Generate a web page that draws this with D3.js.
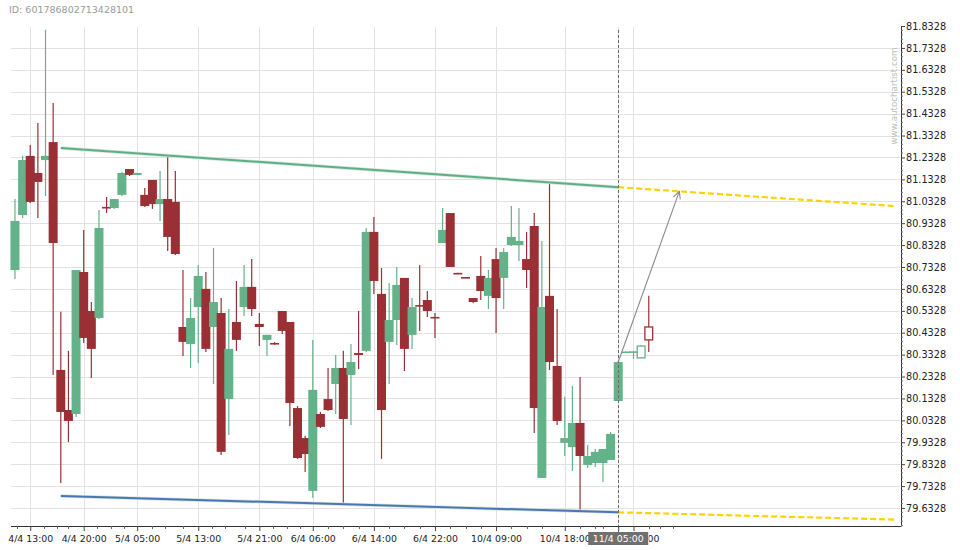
<!DOCTYPE html>
<html><head><meta charset="utf-8">
<script src="https://cdn.jsdelivr.net/npm/d3@7"></script>
<style>
body{margin:0;background:#fff;}
svg{display:block;font-family:"DejaVu Sans",sans-serif;}
</style>
</head><body>
<svg id="c" width="960" height="550"></svg>
<script>
// ---- data (candle index 0..83) ----
const openP  = [80.719,80.970,81.240,81.162,81.221,81.303,80.263,80.080,80.062,80.710,
                80.532,80.500,81.007,81.002,81.062,81.180,81.153,81.062,81.130,81.020,
                81.043,81.030,80.459,80.381,80.550,80.633,80.459,80.523,80.130,80.482,
                80.550,80.642,80.473,80.400,80.386,80.532,80.482,80.089,79.952,79.711,
                80.062,80.130,80.199,80.272,80.240,80.340,80.350,80.893,80.610,80.391,
                80.491,80.683,80.423,80.559,80.582,80.505,80.842,80.979,80.706,80.687,
                80.591,80.692,80.601,80.769,80.683,80.833,80.833,80.769,80.920,79.770,
                80.601,80.281,79.930,79.911,80.021,79.829,79.838,79.838,79.852,80.121,
                80.343,80.343,80.318,80.459];
const highP  = [81.043,81.240,81.290,81.390,81.815,81.481,80.528,80.350,80.719,80.902,
                80.573,80.993,81.052,81.043,81.167,81.180,81.162,81.093,81.130,81.171,
                81.240,81.171,80.719,80.591,80.742,80.710,80.820,80.591,80.541,80.669,
                80.742,80.769,80.523,80.423,80.390,80.532,80.482,80.098,79.962,80.400,
                80.071,80.272,80.331,80.350,80.381,80.532,80.911,80.961,80.728,80.660,
                80.733,80.683,80.591,80.742,80.623,80.523,81.002,80.979,80.706,80.687,
                80.591,80.783,80.719,80.820,80.820,81.011,81.002,80.893,80.979,80.852,
                81.116,80.541,80.140,80.190,80.231,79.920,79.902,79.902,79.980,80.304,
                80.347,80.350,80.377,80.601];
const lowP   = [80.678,80.957,81.025,80.957,81.057,80.240,79.747,79.934,80.048,80.386,
                80.226,80.496,80.979,80.998,81.057,81.148,81.153,81.007,80.998,80.943,
                80.806,80.788,80.327,80.272,80.295,80.345,80.199,79.875,79.966,80.350,
                80.509,80.509,80.372,80.327,80.378,80.427,80.007,79.857,79.797,79.679,
                79.998,80.076,80.062,79.651,80.012,80.267,80.345,80.610,79.857,80.199,
                80.377,80.258,80.359,80.441,80.505,80.409,80.842,80.733,80.701,80.683,
                80.569,80.582,80.541,80.432,80.541,80.829,80.760,80.637,79.975,79.770,
                80.263,80.012,79.870,79.802,79.624,79.815,79.820,79.752,79.852,80.121,
                80.343,80.313,80.318,80.345];
const closeP = [80.943,81.221,81.030,81.121,81.240,80.842,80.071,80.030,80.719,80.409,
                80.359,80.911,81.002,81.043,81.162,81.153,81.162,81.011,81.020,81.043,
                80.870,80.792,80.391,80.500,80.692,80.359,80.573,79.889,80.359,80.400,
                80.642,80.541,80.459,80.423,80.381,80.441,80.112,79.861,79.879,80.172,
                80.003,80.080,80.272,80.039,80.299,80.331,80.893,80.669,80.080,80.491,
                80.651,80.359,80.550,80.555,80.532,80.500,80.902,80.733,80.701,80.683,
                80.573,80.623,80.683,80.591,80.801,80.870,80.852,80.719,80.089,80.550,
                80.299,80.030,79.952,80.021,79.870,79.870,79.889,79.902,79.971,80.299,
                80.347,80.348,80.372,80.400];
const hollowFrom = 82;        // candles drawn as outlines
const patternEnd = 79;        // identification candle (11/4 05:00)

const xTickIdx    = [2,9,16,24,32,39,47,55,63,72,79,81];
const xTickLabels = ["4/4 13:00","4/4 20:00","5/4 05:00","5/4 13:00","5/4 21:00","6/4 06:00",
                     "6/4 14:00","6/4 22:00","10/4 09:00","10/4 18:00","11/4 05:00","11/4 07:00"];
const xMinorIdx   = [0.3,3.8,5.5,7,10.8,12.6,14.3,17.9,19.7,22,25.8,27.5,30.1,33.8,35.6,37.3,
                     41,43,45,49,51,53,57,59,61,65,67,69,74,76,77,83,84.5,86.2];
const yTickValues = [79.6328,79.7328,79.8328,79.9328,80.0328,80.1328,80.2328,80.3328,80.4328,
                     80.5328,80.6328,80.7328,80.8328,80.9328,81.0328,81.1328,81.2328,81.3328,
                     81.4328,81.5328,81.6328,81.7328,81.8328];

const resistance     = [[6,81.276],[79,81.097]];
const resistanceProj = [[79,81.097],[115.2,81.011]];
const support        = [[6,79.688],[79,79.613]];
const supportProj    = [[79,79.613],[115.2,79.580]];
const forecastArrow  = [[79,80.299],[87,81.078]];

// ---- drawing ----
const svg = d3.select("#c");
const L = 11, R = 900, T = 26, B = 526;
const x = d3.scaleLinear().domain([-0.52, 115.9]).range([L, R]);
const y = d3.scaleLinear().domain([79.5506, 81.8328]).range([B, T]);
const GREEN = "#63b28a", RED = "#9a3035";
const bx = x(patternEnd);

const defs = svg.append("defs");

// title
svg.append("text").attr("x", 9).attr("y", 13).attr("font-size", 9.5)
  .attr("fill", "#9a9a9a").text("ID: 601786802713428101");

// grid
const grid = svg.append("g");
grid.selectAll("line.h").data(yTickValues.filter(v => y(v) > T + 2)).enter().append("line")
  .attr("x1", L).attr("x2", R).attr("y1", d => Math.round(y(d)) + 0.5).attr("y2", d => Math.round(y(d)) + 0.5)
  .attr("stroke", "#e2e2e2").attr("stroke-width", 1);
grid.selectAll("line.v").data(xTickIdx).enter().append("line")
  .attr("x1", d => Math.round(x(d)) + 0.5).attr("x2", d => Math.round(x(d)) + 0.5)
  .attr("y1", T + 1).attr("y2", B)
  .attr("stroke", "#e2e2e2").attr("stroke-width", 1);

// watermark
svg.append("text").attr("transform", "translate(897,96) rotate(-90)")
  .attr("text-anchor", "middle").attr("font-size", 8.7).attr("fill", "#bdbdbd")
  .text("www.autochartist.com");

// candles
const candles = svg.append("g");
openP.forEach((o, i) => {
  const c = closeP[i], h = highP[i], l = lowP[i];
  const col = c >= o ? GREEN : RED;
  const cx = x(i);
  const g = candles.append("g");
  g.append("line").attr("x1", cx).attr("x2", cx).attr("y1", y(h)).attr("y2", y(l))
    .attr("stroke", col).attr("stroke-width", 1.2);
  const top = y(Math.max(o, c)), bot = y(Math.min(o, c));
  const hgt = Math.max(1.6, bot - top);
  if (i >= hollowFrom) {
    g.append("rect").attr("x", cx - 3.9).attr("width", 7.8).attr("y", top).attr("height", hgt)
      .attr("fill", "#fff").attr("stroke", col).attr("stroke-width", 1.3);
  } else {
    g.append("rect").attr("x", cx - 4.5).attr("width", 9).attr("y", top).attr("height", hgt)
      .attr("fill", col);
  }
});

// trend lines
const lg = d3.line().x(d => x(d[0])).y(d => y(d[1]));
svg.append("path").attr("d", lg(resistance)).attr("fill", "none")
  .attr("stroke", "#d4e8dc").attr("stroke-width", 3.5);
svg.append("path").attr("d", lg(resistance)).attr("fill", "none")
  .attr("stroke", "#5fae86").attr("stroke-width", 2);
svg.append("path").attr("d", lg(support)).attr("fill", "none")
  .attr("stroke", "#d6e3dc").attr("stroke-width", 3.5);
svg.append("path").attr("d", lg(support)).attr("fill", "none")
  .attr("stroke", "#4a76b5").attr("stroke-width", 2);
[resistanceProj, supportProj].forEach(p => {
  svg.append("path").attr("d", lg(p)).attr("fill", "none")
    .attr("stroke", "#ffd200").attr("stroke-width", 2.2).attr("stroke-dasharray", "6,3");
});

// identification dashed line
svg.append("line").attr("x1", Math.round(bx) + 0.5).attr("x2", Math.round(bx) + 0.5)
  .attr("y1", 30).attr("y2", 532).attr("stroke", "#6a6a6a").attr("stroke-width", 1)
  .attr("stroke-dasharray", "3,2");

// forecast arrow
defs.append("marker").attr("id", "ah").attr("viewBox", "0 0 10 10")
  .attr("refX", 9).attr("refY", 5).attr("markerWidth", 9).attr("markerHeight", 9)
  .attr("markerUnits", "userSpaceOnUse").attr("orient", "auto")
  .append("path").attr("d", "M1,1 L9,5 L1,9").attr("fill", "none")
  .attr("stroke", "#888").attr("stroke-width", 1.2);
svg.append("path").attr("d", lg(forecastArrow)).attr("fill", "none")
  .attr("stroke", "#8a8a8a").attr("stroke-width", 1.1).attr("marker-end", "url(#ah)");

// axes
const xAxis = svg.append("g").attr("transform", `translate(0,${B})`)
  .call(d3.axisBottom(x).tickValues(xTickIdx).tickFormat((d, i) => xTickLabels[i])
        .tickSize(5).tickSizeOuter(0));
xAxis.select(".domain").attr("d", `M${L},0.5H${R + 1}`).attr("stroke", "#333");
xAxis.selectAll(".tick line").attr("stroke", "#444");
xAxis.selectAll(".tick text").attr("font-size", 9.4).attr("fill", "#222")
  .attr("font-family", '"DejaVu Sans",sans-serif').attr("dy", "0.9em");
// label partly hidden behind the current-time box: show only the uncovered part
xAxis.selectAll(".tick").filter(d => d > patternEnd).each(function (d) {
  const id = "clipTick" + d;
  defs.append("clipPath").attr("id", id).append("rect")
    .attr("x", bx + 30 - x(d)).attr("y", 0).attr("width", 100).attr("height", 24);
  d3.select(this).select("text").attr("clip-path", `url(#${id})`);
});
svg.append("g").attr("transform", `translate(0,${B})`)
  .selectAll("line").data(xMinorIdx).enter().append("line")
  .attr("x1", d => Math.round(x(d)) + 0.5).attr("x2", d => Math.round(x(d)) + 0.5)
  .attr("y1", 0).attr("y2", 3).attr("stroke", "#666");

const yAxis = svg.append("g").attr("transform", `translate(${R + 1},0)`)
  .call(d3.axisRight(y).tickValues(yTickValues).tickFormat(d3.format(".4f"))
        .tickSize(4).tickSizeOuter(0));
yAxis.select(".domain").attr("stroke", "#333");
yAxis.selectAll(".tick line").attr("stroke", "#444");
yAxis.selectAll(".tick text").attr("font-size", 9.7).attr("fill", "#222")
  .attr("font-family", '"DejaVu Sans",sans-serif').attr("x", 5);
const yMinor = [];
yTickValues.forEach(v => { for (let k = 1; k < 5; k++) yMinor.push(v - 0.02 * k); });
svg.append("g").attr("transform", `translate(${R + 1},0)`)
  .selectAll("line").data(yMinor.filter(v => v > 79.5506)).enter().append("line")
  .attr("x1", 0).attr("x2", 2).attr("y1", d => y(d)).attr("y2", d => y(d)).attr("stroke", "#777");

// current time label box
svg.append("rect").attr("x", bx - 30).attr("y", 532).attr("width", 60).attr("height", 13)
  .attr("fill", "#707070");
svg.append("text").attr("x", bx).attr("y", 542).attr("text-anchor", "middle")
  .attr("font-size", 9.4).attr("fill", "#fff").text(xTickLabels[xTickIdx.indexOf(patternEnd)]);
</script>
</body></html>
